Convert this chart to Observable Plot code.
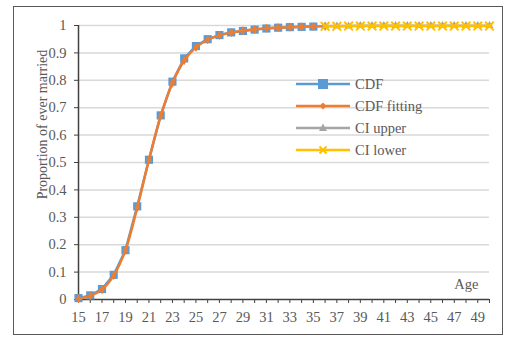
<!DOCTYPE html>
<html>
<head>
<meta charset="utf-8">
<script src="https://cdn.jsdelivr.net/npm/d3@7"></script>
<script src="https://cdn.jsdelivr.net/npm/@observablehq/plot@0.6"></script>
<style>
  html, body { margin: 0; padding: 0; background: #fff; }
  #wrap { position: relative; width: 507px; height: 341px; overflow: hidden; }
  #border { position: absolute; left: 13px; top: 6px; width: 490px; height: 329px; border: 1.5px solid #595959; box-sizing: border-box; pointer-events: none; }
  #legend { position: absolute; left: 296px; top: 73px; font-family: "Liberation Serif", serif; font-size: 14.5px; color: #595959; }
  #legend .row { display: flex; align-items: center; height: 22px; }
  #legend svg { margin-right: 5px; }
</style>
</head>
<body>
<div id="wrap">
  <div id="chart"></div>
  <div id="border"></div>
  <div id="legend"></div>
</div>
<script>
// Data
const cdfAges = [15,16,17,18,19,20,21,22,23,24,25,26,27,28,29,30,31,32,33,34,35];
const cdfValues = [0.005,0.015,0.038,0.09,0.18,0.34,0.51,0.672,0.795,0.88,0.925,0.95,0.965,0.975,0.98,0.985,0.989,0.992,0.994,0.995,0.996];
const fitAges = [15,16,17,18,19,20,21,22,23,24,25,26,27,28,29,30,31,32,33,34,35,36];
const fitValues = [0.003,0.013,0.036,0.088,0.18,0.335,0.51,0.67,0.79,0.872,0.92,0.948,0.964,0.974,0.981,0.986,0.99,0.992,0.994,0.995,0.996,0.997];
const ciAges = [36,37,38,39,40,41,42,43,44,45,46,47,48,49,50];
const ciUpper = [0.998,0.998,0.998,0.999,0.999,0.999,0.999,0.999,0.999,0.999,0.999,0.999,0.999,0.999,0.999];
const ciLower = [0.997,0.997,0.998,0.998,0.998,0.998,0.998,0.998,0.998,0.998,0.998,0.998,0.998,0.998,0.998];
const xTicks = [15,16,17,18,19,20,21,22,23,24,25,26,27,28,29,30,31,32,33,34,35,36,37,38,39,40,41,42,43,44,45,46,47,48,49,50];
const xLabels = [15,17,19,21,23,25,27,29,31,33,35,37,39,41,43,45,47,49];
const yTicks = [0,0.1,0.2,0.3,0.4,0.5,0.6,0.7,0.8,0.9,1];
const seriesNames = ["CDF", "CDF fitting", "CI upper", "CI lower"];
const seriesColors = ["#5B9BD5", "#ED7D31", "#A5A5A5", "#FFC000"];
const yTitle = "Proportion of ever married";
const xTitle = "Age";

const cdf = cdfAges.map((a, i) => ({age: a, v: cdfValues[i]}));
const fit = fitAges.map((a, i) => ({age: a, v: fitValues[i]}));
const up = ciAges.map((a, i) => ({age: a, v: ciUpper[i]}));
const lo = ciAges.map((a, i) => ({age: a, v: ciLower[i]}));

const font = "Liberation Serif";
const chart = Plot.plot({
  width: 507,
  height: 341,
  marginLeft: 78,
  marginRight: 18,
  marginTop: 25,
  marginBottom: 42,
  style: {fontFamily: font, fontSize: "14.5px", color: "#595959", background: "transparent"},
  x: {domain: [15, 50]},
  y: {domain: [0, 1]},
  marks: [
    Plot.gridY(yTicks.filter(d => d > 0), {stroke: "#d9d9d9", strokeOpacity: 1, strokeWidth: 1.5}),
    Plot.axisY(yTicks, {tickSize: 4, tickPadding: 8, stroke: "#404040", tickFormat: d => String(d), label: null, fill: "#595959", fontSize: 14.5}),
    Plot.axisX(xTicks, {tickSize: 4, tickPadding: 8, stroke: "#404040", tickFormat: d => xLabels.includes(d) ? String(d) : "", label: null, fill: "#595959", fontSize: 14.5}),
    Plot.text([yTitle], {frameAnchor: "left", textAnchor: "middle", rotate: -90, dx: -36, dy: -38, fill: "#595959", fontSize: 14}),
    Plot.ruleX([15], {stroke: "#404040", strokeWidth: 1.5}),
    Plot.ruleY([0], {stroke: "#404040", strokeWidth: 1.5}),
    Plot.line(cdf, {x: "age", y: "v", stroke: seriesColors[0], strokeWidth: 2.5}),
    Plot.dot(cdf, {x: "age", y: "v", symbol: "square", fill: seriesColors[0], r: 4.6}),
    Plot.line(fit, {x: "age", y: "v", stroke: seriesColors[1], strokeWidth: 2.5, curve: "catmull-rom"}),
    Plot.dot(fit, {x: "age", y: "v", symbol: "diamond", fill: seriesColors[1], r: 2.8}),
    Plot.line(up, {x: "age", y: "v", stroke: seriesColors[2], strokeWidth: 2.5}),
    Plot.dot(up, {x: "age", y: "v", symbol: "triangle", fill: seriesColors[2], r: 3}),
    Plot.line(lo, {x: "age", y: "v", stroke: seriesColors[3], strokeWidth: 2.5}),
    Plot.dot(lo, {x: "age", y: "v", symbol: "times", stroke: seriesColors[3], strokeWidth: 2, r: 4}),
    Plot.text([xTitle], {frameAnchor: "bottom-right", dx: -11, dy: -11, fill: "#595959", fontSize: 14.5})
  ]
});
document.getElementById("chart").appendChild(chart);

// Legend
const legend = document.getElementById("legend");
const markerSvg = [
  `<rect x="22" y="5" width="10" height="10" fill="${seriesColors[0]}"/>`,
  `<path d="M27 6.5 L30.5 10 L27 13.5 L23.5 10 Z" fill="${seriesColors[1]}"/>`,
  `<path d="M27 5.5 L31 13 L23 13 Z" fill="${seriesColors[2]}"/>`,
  `<path d="M23.5 6.5 L30.5 13.5 M30.5 6.5 L23.5 13.5" stroke="${seriesColors[3]}" stroke-width="2"/>`
];
seriesNames.forEach((name, i) => {
  const row = document.createElement("div");
  row.className = "row";
  row.innerHTML = `<svg width="54" height="20"><line x1="0" x2="54" y1="10" y2="10" stroke="${seriesColors[i]}" stroke-width="2.5"/>${markerSvg[i]}</svg><span>${name}</span>`;
  legend.appendChild(row);
});
</script>
</body>
</html>
